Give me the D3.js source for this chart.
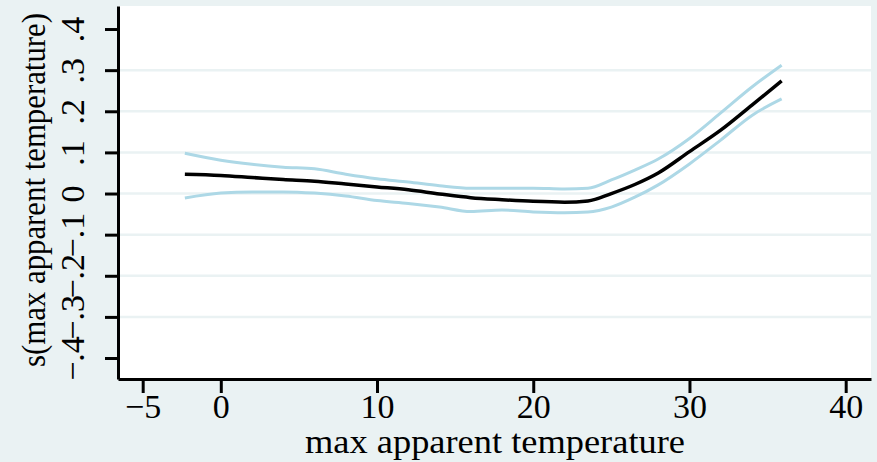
<!DOCTYPE html>
<html>
<head>
<meta charset="utf-8">
<script src="https://cdn.jsdelivr.net/npm/d3@7"></script>
<style>
    html, body { margin: 0; padding: 0; background: #eaf2f3; }
    text { font-family: "Liberation Serif", "Times New Roman", serif; fill: #000; }
</style>
</head>
<body>
<div id="chart"></div>
<script>
// smoothed effect of max apparent temperature, with confidence band
var temps = [-2.3, 0, 2, 4, 6, 8, 10, 12, 14, 16, 18, 20, 22, 23.5, 25, 26.5, 28, 30, 32, 34, 35.9];
var fit   = [0.047, 0.044, 0.039, 0.034, 0.030, 0.023, 0.016, 0.009, -0.001, -0.010, -0.015, -0.019, -0.021, -0.018, 0.000, 0.022, 0.050, 0.102, 0.154, 0.215, 0.274];
var upper = [0.098, 0.081, 0.071, 0.064, 0.060, 0.047, 0.036, 0.028, 0.019, 0.013, 0.013, 0.013, 0.011, 0.013, 0.033, 0.057, 0.084, 0.134, 0.196, 0.259, 0.312];
var lower = [-0.011, 0.001, 0.004, 0.004, 0.001, -0.006, -0.017, -0.024, -0.033, -0.044, -0.040, -0.045, -0.047, -0.045, -0.033, -0.009, 0.021, 0.072, 0.130, 0.190, 0.230];

var xTicks = [-5, 0, 10, 20, 30, 40];
var yTicks = [-0.4, -0.3, -0.2, -0.1, 0, 0.1, 0.2, 0.3, 0.4];
var xTitle = "max apparent temperature";
var yTitle = "s(max apparent temperature)";

var width = 877,
    height = 462,
    plot = {left: 118, right: 871, top: 6, bottom: 379},
    bg = "#eaf2f3",
    bandColor = "#add8e6";

var svg = d3.select("#chart").append("svg")
    .attr("width", width)
    .attr("height", height);

svg.append("rect")
    .attr("width", width)
    .attr("height", height)
    .attr("fill", bg);

// axis ranges padded a little beyond the outer ticks, like the original
var x = d3.scaleLinear().domain([-6.58, 41.62]).range([plot.left, plot.right]);
var y = d3.scaleLinear().domain([-0.451, 0.456]).range([plot.bottom, plot.top]);

svg.append("rect")
    .attr("x", plot.left)
    .attr("y", plot.top)
    .attr("width", plot.right - plot.left)
    .attr("height", plot.bottom - plot.top)
    .attr("fill", "#fff");

// gridlines at the inner ticks
svg.selectAll(".grid")
    .data(yTicks.slice(1, -1))
    .enter().append("line")
    .attr("class", "grid")
    .attr("x1", plot.left)
    .attr("x2", plot.right)
    .attr("y1", function (d) { return y(d); })
    .attr("y2", function (d) { return y(d); })
    .attr("stroke", bg)
    .attr("stroke-width", 2.5);

var line = function (vals) {
    return d3.line()
        .x(function (d, i) { return x(temps[i]); })
        .y(function (d) { return y(d); })
        .curve(d3.curveMonotoneX)(vals);
};

[upper, lower].forEach(function (s) {
    svg.append("path")
        .attr("d", line(s))
        .attr("fill", "none")
        .attr("stroke", bandColor)
        .attr("stroke-width", 3);
});

svg.append("path")
    .attr("d", line(fit))
    .attr("fill", "none")
    .attr("stroke", "#000")
    .attr("stroke-width", 3.5);

// y axis
var yAxis = svg.append("g")
    .attr("transform", "translate(" + plot.left + ",0)")
    .call(d3.axisLeft(y)
        .tickValues(yTicks)
        .tickSize(13)
        .tickSizeOuter(0)
        .tickFormat(function (d) {
            if (Math.abs(d) < 1e-9) return "0";
            return (d < 0 ? "\u2212" : "") + "." + Math.round(Math.abs(d) * 10);
        }));

yAxis.select(".domain").attr("stroke-width", 3);
yAxis.selectAll(".tick line").attr("stroke-width", 3);
yAxis.selectAll(".tick text")
    .attr("x", 0)
    .attr("dy", 0)
    .attr("text-anchor", "middle")
    .attr("transform", "translate(-34,0) rotate(-90)")
    .style("font-size", "34px")
    .style("font-family", "Liberation Serif");

// x axis
var xAxis = svg.append("g")
    .attr("transform", "translate(0," + plot.bottom + ")")
    .call(d3.axisBottom(x)
        .tickValues(xTicks)
        .tickSize(14)
        .tickSizeOuter(0)
        .tickFormat(function (d) { return d < 0 ? "\u2212" + Math.abs(d) : d; }));

xAxis.select(".domain").attr("stroke-width", 3);
xAxis.selectAll(".tick line").attr("stroke-width", 3);
xAxis.selectAll(".tick text")
    .attr("y", 39)
    .attr("dy", 0)
    .style("font-size", "34px")
    .style("font-family", "Liberation Serif");

// titles
svg.append("text")
    .attr("x", 495)
    .attr("y", 453)
    .attr("text-anchor", "middle")
    .attr("textLength", 380)
    .attr("lengthAdjust", "spacingAndGlyphs")
    .style("font-size", "34px")
    .text(xTitle);

svg.append("text")
    .attr("transform", "translate(45,190) rotate(-90)")
    .attr("text-anchor", "middle")
    .attr("textLength", 354)
    .attr("lengthAdjust", "spacingAndGlyphs")
    .style("font-size", "33px")
    .text(yTitle);
</script>
</body>
</html>
